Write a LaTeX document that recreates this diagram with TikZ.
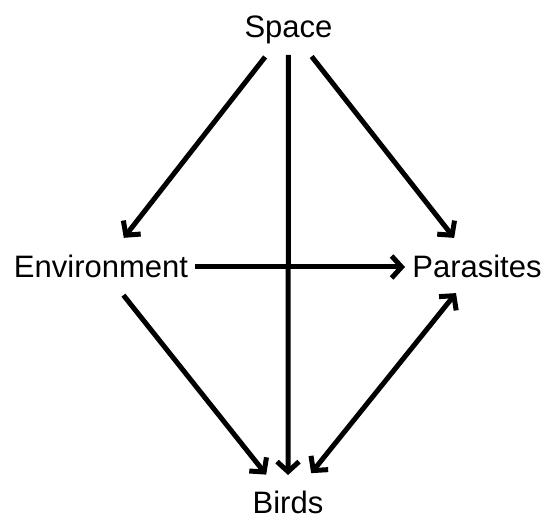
\documentclass[tikz,border=0pt]{standalone}
\usepackage{fontspec}
\setmainfont{Liberation Sans}
\usetikzlibrary{arrows.meta}
\begin{document}
\begin{tikzpicture}[x=1pt,y=-1pt,
  lbl/.style={inner sep=0pt, font=\fontsize{31}{36}\selectfont, text height=22pt, text depth=0pt, anchor=center},
  tipx/.tip={Straight Barb[length=10pt,width=22pt]},
  edge/.style={line width=5pt, -tipx},
  bothedge/.style={line width=5pt, tipx-tipx},
]
\useasboundingbox (0,0) rectangle (547,516);
\node[lbl] (space) at (288.5,27) {Space};
\node[lbl] (env) at (101,267) {Environment};
\node[lbl] (par) at (477,267) {Parasites};
\node[lbl] (birds) at (288,502) {Birds};
\draw[edge, shorten <=38pt, shorten >=37pt] (space.center) -- (env.center);
\draw[edge, shorten <=28pt, shorten >=27pt] (space.center) -- (birds.center);
\draw[edge, shorten <=37.5pt, shorten >=37pt] (space.center) -- (par.center);
\draw[edge, shorten <=94pt, shorten >=72pt] (env.center) -- (par.center);
\draw[edge, shorten <=36pt, shorten >=35pt] (env.center) -- (birds.center);
\draw[bothedge, shorten <=33.5pt, shorten >=37pt] (par.center) -- (birds.center);
\end{tikzpicture}
\end{document}
